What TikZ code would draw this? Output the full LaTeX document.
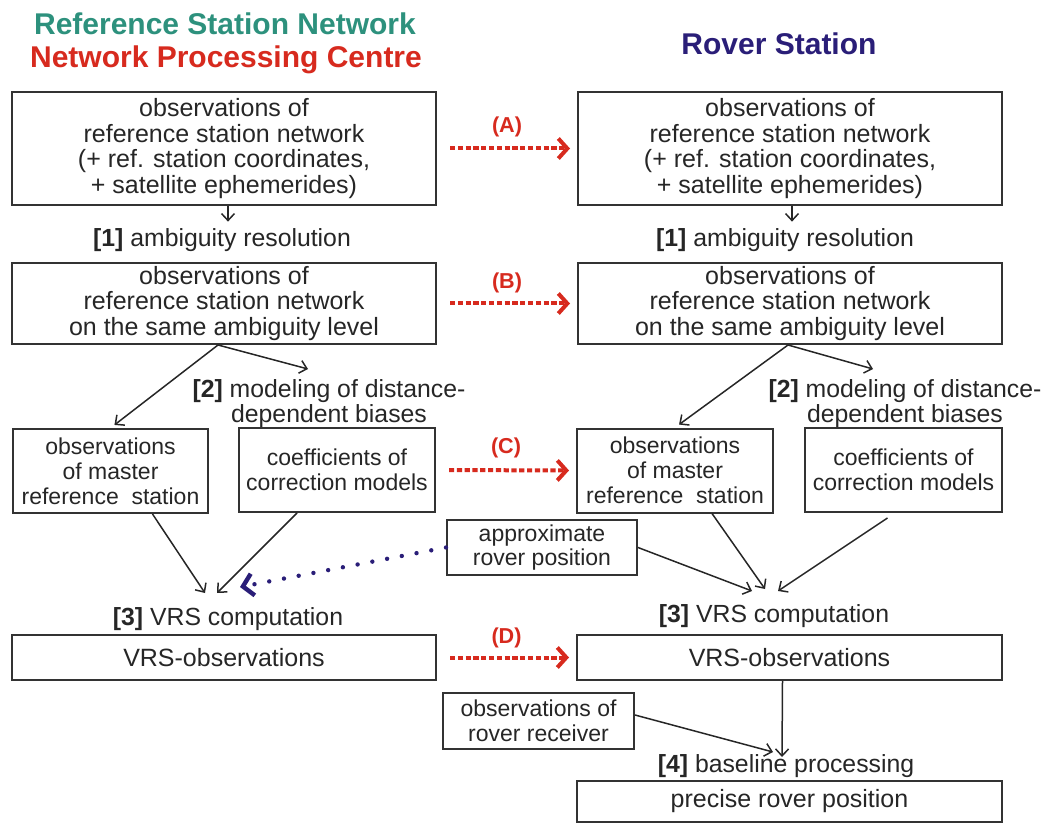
\documentclass[tikz,border=0pt]{standalone}
\usepackage{fontspec}
\setmainfont{Liberation Sans}
\usepackage{xcolor}
\usetikzlibrary{arrows.meta, positioning, calc}

\definecolor{rsnGreen}{RGB}{45,145,125}
\definecolor{npcRed}{RGB}{215,42,30}
\definecolor{roverBlue}{RGB}{42,30,120}

\begin{document}
\begin{tikzpicture}[%
    x=0.5pt, y=-0.5pt,
    every node/.style={%
      text=black!85,
      align=center,
      inner sep=0pt
    },
    box/.style={draw=black!80, line width=1pt, font=\fontsize{12.5}{12.8}\selectfont},
    smallbox/.style={box, font=\fontsize{11.5}{12.4}\selectfont},
    stage/.style={font=\fontsize{12.4}{12.1}\selectfont},
    title/.style={font=\fontsize{15}{16}\selectfont\bfseries},
    tag/.style={text=npcRed, font=\fontsize{10.8}{12}\selectfont\bfseries},
    link/.style={draw=black!85, line width=0.75pt, -{Straight Barb[length=3.5pt,width=6.5pt]}},
    send/.style={draw=npcRed, line width=2pt, dash pattern=on 2.6pt off 1.3pt,
      shorten <=6.5pt, shorten >=3.5pt, -{Straight Barb[length=4.5pt,width=10pt]}},
    guess/.style={draw=roverBlue, line width=2.2pt, line cap=round,
      dash pattern=on 0pt off 7.5pt, -{Straight Barb[length=5pt,width=11pt]}}
  ]

  \useasboundingbox (0,0) rectangle (1048,823);

  % Headings
  \node[title, text=rsnGreen, anchor=base] (rsn) at (225,35) {Reference Station Network};
  \node[title, text=npcRed, anchor=base] (npc) at (226,68) {Network Processing Centre};
  \node[title, text=roverBlue, anchor=base] (rover) at (779,55) {Rover Station};

  % Network side
  \node[box, minimum width=212pt, minimum height=56.5pt] (obsL) at (224,148.5)
    {observations of\\reference station network\\(+ ref. station coordinates,\\+ satellite ephemerides)};
  \node[stage, anchor=base] (ambL) at (222,247) {\textbf{[1]} ambiguity resolution};
  \node[box, minimum width=212pt, minimum height=40.5pt] (levL) at (224,303.5)
    {observations of\\reference station network\\on the same ambiguity level};
  \node[stage] (modL) at (329,403.5) {\textbf{[2]} modeling of distance-\\dependent biases};
  \node[smallbox, minimum width=97.5pt, minimum height=42pt] (masterL) at (110.5,471)
    {observations\\of master\\reference\ \ station};
  \node[smallbox, minimum width=98pt, minimum height=42pt] (coefL) at (337,470)
    {coefficients of\\correction models};
  \node[stage, anchor=base] (vrsLabL) at (228,625) {\textbf{[3]} VRS computation};
  \node[box, minimum width=212pt, minimum height=22.5pt] (vrsL) at (224,657.5) {VRS-observations};

  % Rover side
  \node[box, minimum width=212pt, minimum height=56.5pt] (obsR) at (790,148.5)
    {observations of\\reference station network\\(+ ref. station coordinates,\\+ satellite ephemerides)};
  \node[stage, anchor=base] (ambR) at (785,247) {\textbf{[1]} ambiguity resolution};
  \node[box, minimum width=212pt, minimum height=40.5pt] (levR) at (790,303.5)
    {observations of\\reference station network\\on the same ambiguity level};
  \node[stage] (modR) at (905,403.5) {\textbf{[2]} modeling of distance-\\dependent biases};
  \node[smallbox, minimum width=98pt, minimum height=42pt] (masterR) at (675,470.5)
    {observations\\of master\\reference\ \ station};
  \node[smallbox, minimum width=98.5pt, minimum height=42pt] (coefR) at (903.5,470)
    {coefficients of\\correction models};
  \node[smallbox, minimum width=95pt, minimum height=27.5pt] (approx) at (542,547.5)
    {approximate\\rover position};
  \node[stage, anchor=base] (vrsLabR) at (774,622) {\textbf{[3]} VRS computation};
  \node[box, minimum width=212.5pt, minimum height=22.5pt] (vrsR) at (789.5,657.5) {VRS-observations};
  \node[smallbox, minimum width=95.5pt, minimum height=28pt] (recv) at (538.5,721)
    {observations of\\rover receiver};
  \node[stage, anchor=base] (baseLab) at (786,772) {\textbf{[4]} baseline processing};
  \node[box, minimum width=212.5pt, minimum height=20.5pt] (precise) at (789.5,801.5)
    {precise rover position};

  % Arrow ends
  \coordinate (m2L) at (308,369);
  \coordinate (m2R) at (873,369);
  \coordinate (c3La) at (205,593);
  \coordinate (c3Lb) at (217,593);
  \coordinate (c3Lc) at (240,587);
  \coordinate (c3Ra) at (765,589);
  \coordinate (c3Rb) at (778,591);
  \coordinate (c3Rc) at (752,591);
  \coordinate (c4a) at (782,757);
  \coordinate (c4b) at (773,752);

  % Processing steps
  \draw[link, shorten >=3.5pt] ($(obsL.south)+(4,0)$) -- ($(obsL.south|-ambL.north)+(4,0)$);
  \draw[link, shorten >=3.5pt] ($(obsR.south)+(2,0)$) -- ($(obsR.south|-ambR.north)+(2,0)$);
  \draw[link, shorten >=2.5pt] ($(levL.south)+(-6,0)$) -- (masterL.north);
  \draw[link] ($(levL.south)+(-6,0)$) -- (m2L);
  \draw[link, shorten >=2.5pt] ($(levR.south)+(-2,0)$) -- (masterR.north);
  \draw[link] ($(levR.south)+(-2,0)$) -- (m2R);
  \draw[link] ($(masterL.south)+(42,0)$) -- (c3La);
  \draw[link] ($(coefL.south)+(-40,0)$) -- (c3Lb);
  \draw[link] ($(masterR.south)+(37,0)$) -- (c3Ra);
  \draw[link] ($(coefR.south)+(-16,5)$) -- (c3Rb);
  \draw[link] (approx.east) -- (c3Rc);
  \draw[link] ($(vrsR.south)+(-7,0)$) -- (c4a);
  \draw[link] ($(recv.east)+(0,-6)$) -- (c4b);

  % Dotted link
  \draw[guess] (approx.west) -- (c3Lc);

  % Transfers to the rover
  \draw[send] (obsL.east) -- (obsR.west) node[tag, midway, above=5pt] {(A)};
  \draw[send] (levL.east) -- (levR.west) node[tag, midway, above=4.5pt] {(B)};
  \draw[send] (coefL.east) -- (masterR.west) node[tag, midway, above=5pt] {(C)};
  \draw[send] (vrsL.east) -- (vrsR.west) node[tag, midway, above=4pt] {(D)};

\end{tikzpicture}
\end{document}
